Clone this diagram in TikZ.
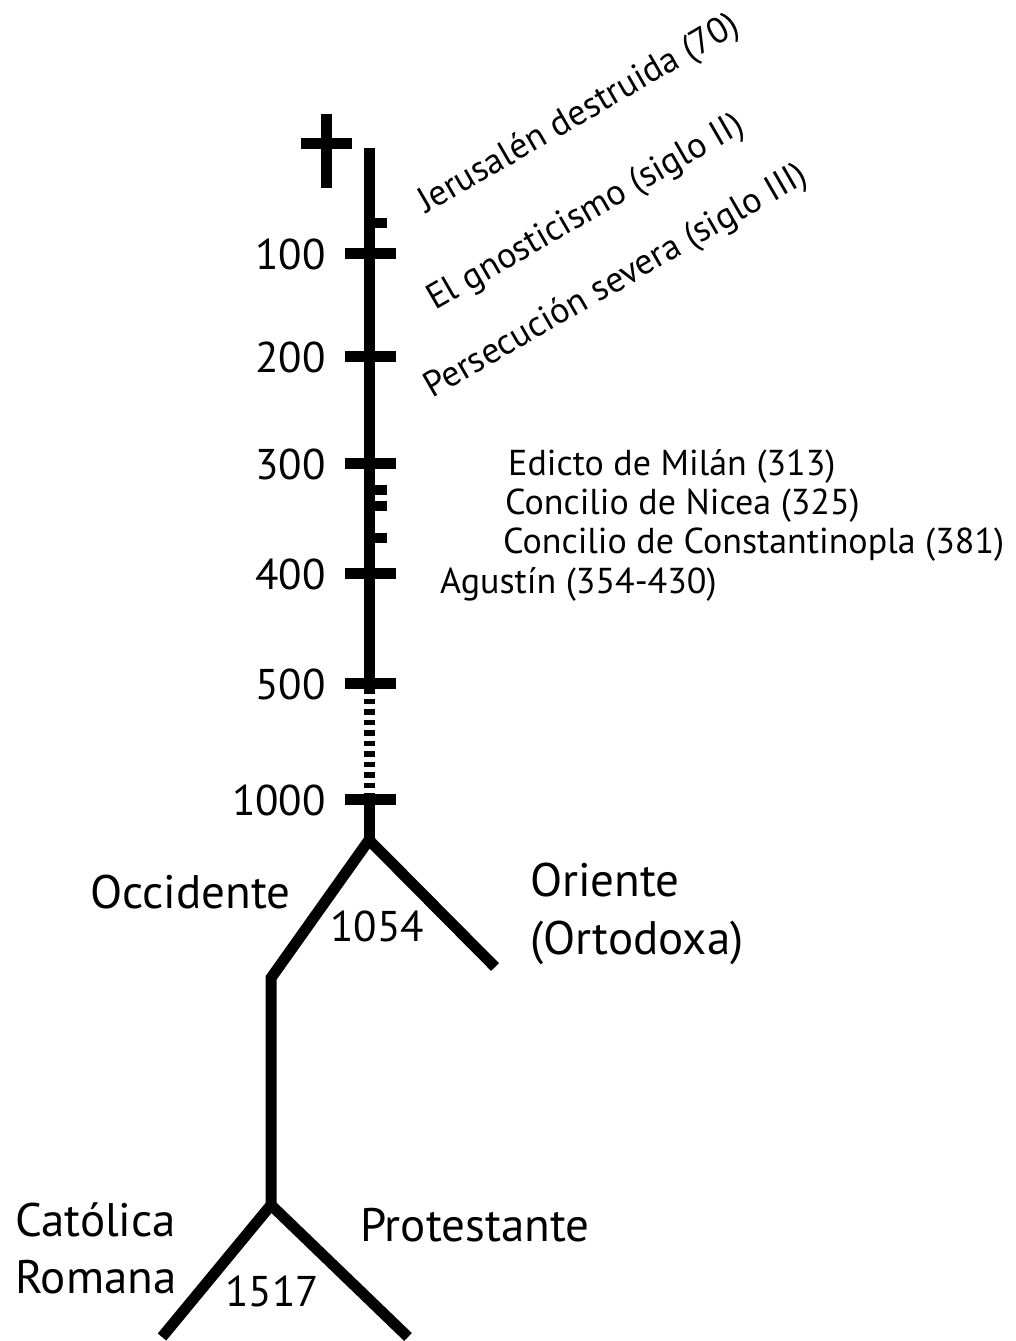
\documentclass[tikz,border=0pt]{standalone}
\usepackage{fontspec}
\setmainfont{PT Sans}
\usepackage{tikz}
\usetikzlibrary{positioning}

\tikzstyle{trunk} = [line width=11pt, line cap=butt, line join=miter]
\tikzstyle{gapline} = [line width=11pt, dash pattern=on 5.5pt off 5pt]
\tikzstyle{bigtick} = [line width=11pt]
\tikzstyle{smalltick} = [line width=10pt]
\tikzstyle{yearlabel} = [inner sep=0pt, anchor=base east, font=\fontsize{43}{48}\selectfont]
\tikzstyle{branchlabel} = [inner sep=0pt, anchor=base west, font=\fontsize{47}{52}\selectfont]
\tikzstyle{eventlabel} = [inner sep=0pt, anchor=base west, font=\fontsize{36}{40}\selectfont]
\tikzstyle{slantlabel} = [eventlabel, rotate=30]

\begin{document}
\begin{tikzpicture}[x=1pt, y=-1pt]
\useasboundingbox (0,0) rectangle (1015,1341);

% --- Points ---
\coordinate (top) at (369,148);
\coordinate (t500) at (369,688);
\coordinate (t1000) at (369,793);
\coordinate (schism) at (369,840);
\coordinate (east) at (495,967);
\coordinate (westbend) at (271,978);
\coordinate (reform) at (271,1205);
\coordinate (catholic) at (162,1337);
\coordinate (protestant) at (408,1337);

% --- Cross ---
\draw[line width=11pt] (326.5,114) -- (326.5,188);
\draw[line width=11pt] (301,143) -- (352,143);

% --- Trunk and branches ---
\draw[trunk] (top) -- (t500);
\draw[gapline] (t500) -- (t1000);
\draw[trunk] (t1000) -- (schism);
\draw[trunk] (schism) -- (east);
\draw[trunk] (schism) -- (westbend) -- (reform);
\draw[trunk] (reform) -- (catholic);
\draw[trunk] (reform) -- (protestant);

% --- Ticks ---
\foreach \yr/\y in {100/253, 200/356, 300/463, 400/573, 500/683, 1000/799} {
  \draw[bigtick] (345,\y) -- (396,\y);
  \node[yearlabel] (y\yr) at (326,\y+16) {\yr};
}
\foreach \y in {223, 490, 506, 538}
  \draw[smalltick] (368,\y) -- (387,\y);

% --- Events ---
\node[slantlabel] (jerusalen) at (426,214) {Jerusalén destruida (70)};
\node[slantlabel] (gnosis) at (435,311) {El gnosticismo (siglo II)};
\node[slantlabel] (persecucion) at (432,399) {Persecución severa (siglo III)};
\node[eventlabel] (milan) at (508,475) {Edicto de Milán (313)};
\node[eventlabel] (nicea) at (505,514) {Concilio de Nicea (325)};
\node[eventlabel] (constantinopla) at (503,553) {Concilio de Constantinopla (381)};
\node[eventlabel] (agustin) at (440,593) {Agustín (354-430)};

% --- Branch labels ---
\node[branchlabel] (occidente) at (90,908) {Occidente};
\node[branchlabel] (oriente) at (530,896) {Oriente};
\node[branchlabel] (ortodoxa) at (530,954) {(Ortodoxa)};
\node[yearlabel, anchor=base west] (y1054) at (330,941) {1054};
\node[branchlabel] (catolica) at (15,1236) {Católica};
\node[branchlabel] (romana) at (15,1293) {Romana};
\node[yearlabel, anchor=base west] (y1517) at (225,1306) {1517};
\node[branchlabel] (protestante) at (360,1241) {Protestante};

\end{tikzpicture}
\end{document}
